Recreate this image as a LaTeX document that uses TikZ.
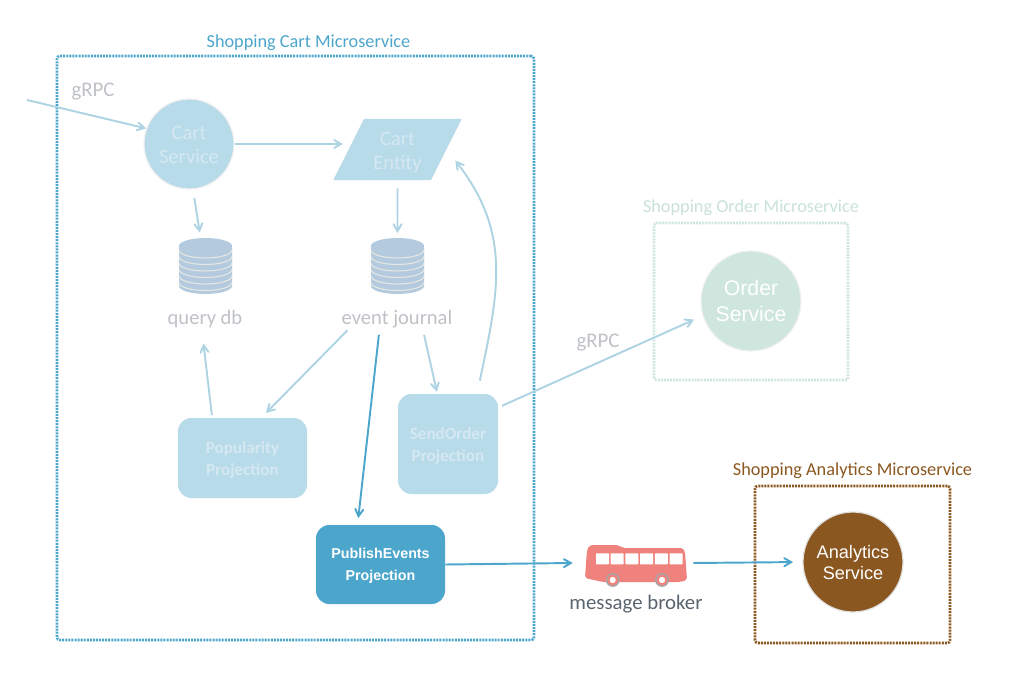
\documentclass[tikz,border=0pt]{standalone}
\usepackage{fontspec}
\setmainfont{Carlito}
\newfontfamily\helv{Liberation Sans}
\usetikzlibrary{shapes}
\usetikzlibrary{arrows}
\definecolor{cartblue}{HTML}{4CA6CC}
\definecolor{paleblue}{HTML}{B8DBEA}
\definecolor{paletext}{HTML}{D5E8F2}
\definecolor{linkblue}{HTML}{AED4E4}
\definecolor{greytext}{HTML}{BEC1C6}
\definecolor{darktext}{HTML}{5B6570}
\definecolor{dbblue}{HTML}{B4CBDF}
\definecolor{dbline}{HTML}{E6E6E2}
\definecolor{busred}{HTML}{F0827D}
\definecolor{ordergreen}{HTML}{CFE6DF}
\definecolor{ordertext}{HTML}{C9E1DA}
\definecolor{analyticsbrown}{HTML}{8B5720}
\tikzset{
  servicebox/.style={rectangle,line width=1.9pt,dash pattern=on 1.5pt off 0.8pt,rounded corners=2pt,inner sep=0pt},
  boxtitle/.style={font=\fontsize{13.7}{15}\selectfont,inner sep=0pt},
  service/.style={circle,inner sep=0pt,align=center},
  projection/.style={rectangle,rounded corners=10pt,inner sep=0pt,align=center,fill=paleblue,text=paletext,font=\fontsize{12.8}{16.5}\selectfont\bfseries},
  dbicon/.style={rectangle,minimum width=40pt,minimum height=40pt,inner sep=0pt},
  dblabel/.style={rectangle,inner sep=0pt,minimum height=19.5pt,text=greytext,font=\fontsize{15.4}{16}\selectfont},
  plainlabel/.style={inner sep=0pt,font=\fontsize{15.6}{16}\selectfont},
  link/.style={->,>={angle 60[scale=1.25]},line width=1.45pt,draw=linkblue},
  activelink/.style={->,>={angle 60[scale=1.25]},line width=1.45pt,draw=cartblue}
}
\newcommand{\dropped}[2][1.5pt]{\raisebox{-#1}[\height][\depth]{#2}}
\newcommand{\dbstack}[1]{
  \begin{scope}[shift={(#1.center)}]
    \fill[dbblue] (-26.5,-20) -- (-26.5,20) arc[start angle=180,end angle=360,x radius=26.5pt*0.75,y radius=6pt] -- (26.5,-20) arc[start angle=0,end angle=180,x radius=26.5pt*0.75,y radius=6pt] -- cycle;
    \foreach \dy in {-16,-9.5,-3,3.5,10,16.5}
      \draw[dbline,line width=0.8pt] (-26.5,\dy) arc[start angle=180,end angle=360,x radius=26.5pt*0.75,y radius=6pt];
  \end{scope}
}
\begin{document}
\begin{tikzpicture}[x=0.75pt,y=-0.75pt]
\useasboundingbox (0,0) rectangle (1022,674);
% microservice boxes
\node[servicebox,draw=cartblue,minimum width=357.75pt,minimum height=438pt] (cartbox) at (295.5,348) {};
\node[servicebox,draw=ordergreen,minimum width=145.5pt,minimum height=117.75pt] (orderbox) at (751,301.5) {};
\node[servicebox,draw=analyticsbrown,minimum width=146.25pt,minimum height=117.75pt] (analyticsbox) at (852.5,564.5) {};
\node[boxtitle,text=cartblue] (carttitle) at (308.5,43) {Shopping Cart Microservice};
\node[boxtitle,text=ordertext] (ordertitle) at (751,208) {Shopping Order Microservice};
\node[boxtitle,text=analyticsbrown] (analyticstitle) at (852.5,471) {Shopping Analytics Microservice};
% services
\node[service,minimum size=67.5pt,fill=paleblue,draw=black!6,line width=0.9pt,text=paletext,font=\fontsize{15.4}{18.5}\selectfont] (cartservice) at (189,144) {\dropped[0.8pt]{Cart}\\\dropped[0.8pt]{Service}};
\node[trapezium,trapezium left angle=62,trapezium right angle=118,trapezium stretches=true,minimum width=96.75pt,minimum height=45.75pt,inner sep=0pt,align=center,fill=paleblue,text=paletext,font=\fontsize{15.4}{18.5}\selectfont] (cartentity) at (397.5,149.5) {\dropped[2.2pt]{Cart}\\\dropped[2.2pt]{Entity}};
\node[service,minimum size=75pt,fill=ordergreen,draw=black!6,line width=0.9pt,text=white,font=\helv\fontsize{15.9}{19.5}\selectfont] (orderservice) at (751,301) {Order\\Service};
\node[service,minimum size=75pt,fill=analyticsbrown,draw=black!12,line width=0.9pt,text=white,font=\helv\fontsize{13.6}{16}\selectfont] (analyticsservice) at (853,562) {\dropped[0.5pt]{Analytics}\\\dropped[0.5pt]{Service}};
% stores
\node[dbicon] (querydb) at (205.5,266) {};
\node[dbicon] (eventjournal) at (397.5,266) {};
\dbstack{querydb}
\dbstack{eventjournal}
\node[dblabel] (querylabel) at (205,317) {\dropped{query db}};
\node[dblabel,minimum width=82.5pt] (journallabel) at (397,317) {\dropped{event journal}};
% projections
\node[projection,minimum width=96.75pt,minimum height=60pt] (popularity) at (242.5,458) {\dropped{Popularity}\\\dropped{Projection}};
\node[projection,minimum width=75pt,minimum height=75pt] (sendorder) at (448,444) {\dropped{SendOrder}\\\dropped{Projection}};
\node[projection,minimum width=96.75pt,minimum height=59.25pt,fill=cartblue,text=white,font=\helv\fontsize{10.7}{16.5}\selectfont\bfseries] (publishevents) at (380.5,564.5) {\dropped[0.8pt]{PublishEvents}\\\dropped[0.8pt]{Projection}};
% broker
\node[rectangle,minimum width=90pt,minimum height=31.5pt,inner sep=0pt] (broker) at (633,563) {};
\fill[busred,rounded corners=1.5pt] (590,545) -- (618,545) -- (623,548) -- (683,548) -- (685,552) -- (687,580) -- (680,582) -- (603,582) -- (585,578) -- (587,550) -- cycle;
\foreach \i in {0,...,5}
  \fill[white,rounded corners=0.5pt] (596+14.7*\i,553.3) rectangle ++(13,11);
\foreach \wx in {612.7,662} {
  \fill[black!35] (\wx,580) circle (5.2pt);
  \draw[busred,fill=white,line width=1.6pt] (\wx,580) circle (3.3pt);
}
\node[plainlabel,text=darktext] (brokerlabel) at (636,604) {message broker};
\node[plainlabel,text=greytext] (grpcin) at (93,92) {gRPC};
\node[plainlabel,text=greytext] (grpcout) at (598,343) {gRPC};
\coordinate (caller) at (27,100);
% connectors
\draw[link] (caller) -- (cartservice.160);
\draw[link,shorten >=4pt] (cartservice.east) -- (cartentity.west |- cartservice.east);
\draw[link,shorten <=6.5pt,shorten >=5pt] (cartservice.-85) -- (querydb.100);
\draw[link,shorten <=6pt,shorten >=4.5pt] (cartentity.south) -- (eventjournal.north);
\draw[link,shorten <=2pt,shorten >=10pt] (popularity.127) -- (querylabel.-103);
\draw[link,shorten >=5pt] (journallabel.-165) -- (popularity.65);
\draw[link,shorten <=3.5pt,shorten >=1.5pt] (journallabel.-27) -- (sendorder.102);
\draw[activelink,shorten <=3.5pt,shorten >=5pt] (journallabel.-143) -- (publishevents.120);
\draw[link,shorten <=10pt,shorten >=10.5pt] (sendorder.60) to[out=78,in=-52,looseness=1.1] (cartentity.east);
\draw[link,shorten <=3pt,shorten >=7pt] (sendorder.36) -- (orderservice.197);
\draw[activelink] (publishevents.east) -- (broker.west);
\draw[activelink,shorten >=7pt] (broker.east) -- (analyticsservice.west);
\end{tikzpicture}
\end{document}
